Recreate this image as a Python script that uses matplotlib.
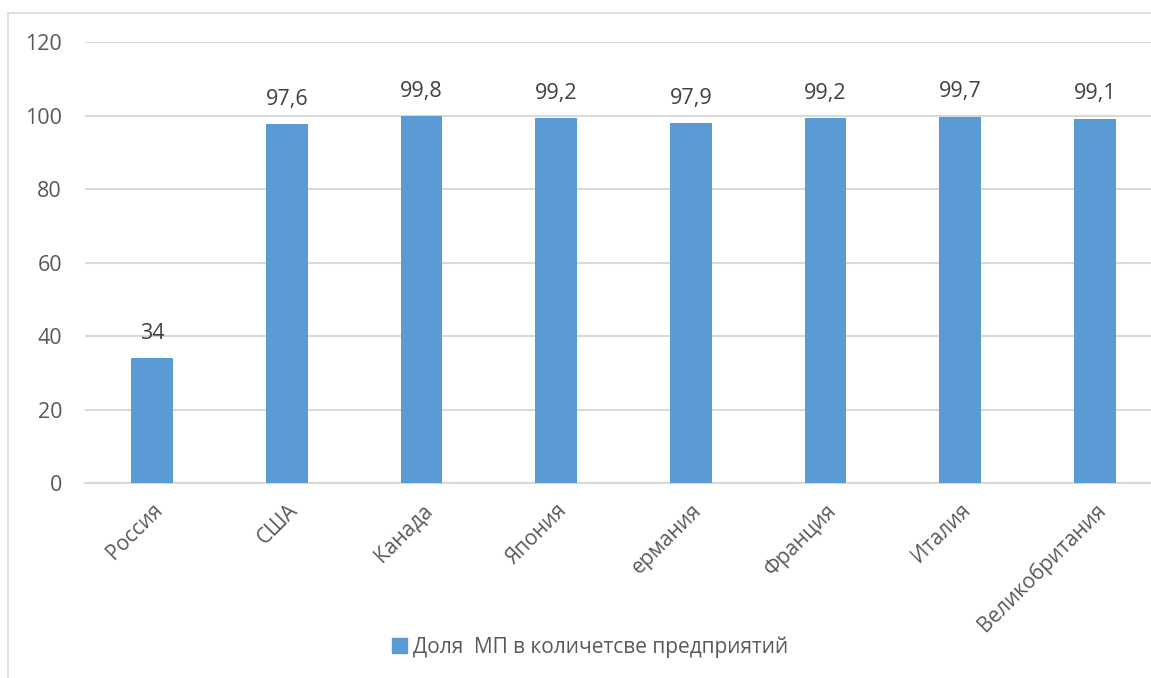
import matplotlib.pyplot as plt
from matplotlib.lines import Line2D
from matplotlib.patches import Patch

plt.rcParams['font.family'] = ['Open Sans', 'DejaVu Sans']

countries = ['Россия', 'США', 'Канада', 'Япония', 'ермания', 'Франция', 'Италия', 'Великобритания']
shares = [34, 97.6, 99.8, 99.2, 97.9, 99.2, 99.7, 99.1]
labels = ['34', '97,6', '99,8', '99,2', '97,9', '99,2', '99,7', '99,1']
yticks = [0, 20, 40, 60, 80, 100, 120]

blue = '#5B9BD5'
grey_text = '#595959'
grid = '#D9D9D9'

fig = plt.figure(figsize=(11.51, 6.78), dpi=100)
ax = fig.add_axes([0.0738, 0.2876, 0.936, 0.6504])

x = list(range(len(countries)))
ax.bar(x, shares, width=0.31, color=blue, zorder=3)
for xi, v, t in zip(x, shares, labels):
    ax.annotate(t, (xi, v), xytext=(0, 18), textcoords='offset points',
                ha='center', va='center', fontsize=15.5, color='#404040')

ax.set_xlim(-0.5, len(countries) - 0.5)
ax.set_ylim(0, 120)
ax.set_yticks(yticks)
ax.set_yticklabels([str(t) for t in yticks], fontsize=15.5, color=grey_text)
ax.set_xticks(x)
ax.set_xticklabels(countries, rotation=45, ha='right', rotation_mode='anchor',
                   fontsize=15, color=grey_text)
ax.tick_params(axis='both', length=0)
ax.tick_params(axis='y', pad=16.5)
ax.tick_params(axis='x', pad=12)
ax.grid(axis='y', color=grid, linewidth=1.5, zorder=0)
for s in ['left', 'right', 'top']:
    ax.spines[s].set_visible(False)
ax.spines['bottom'].set_color(grid)
ax.spines['bottom'].set_linewidth(1.5)

# chart border (only top and left visible in the crop)
fig.add_artist(Line2D([8/1151, 1], [1 - 13/678, 1 - 13/678], color='#D9D9D9', lw=1.2))
fig.add_artist(Line2D([8/1151, 8/1151], [0, 1 - 13/678], color='#D9D9D9', lw=1.2))

fig.legend(handles=[Patch(color=blue, label='Доля  МП в количетсве предприятий')],
           loc='center', bbox_to_anchor=(590/1151, 1 - 647/678), frameon=False,
           fontsize=15, labelcolor=grey_text, handlelength=0.7, handleheight=0.7,
           handletextpad=0.3)

fig.savefig('out.png', dpi=100)
